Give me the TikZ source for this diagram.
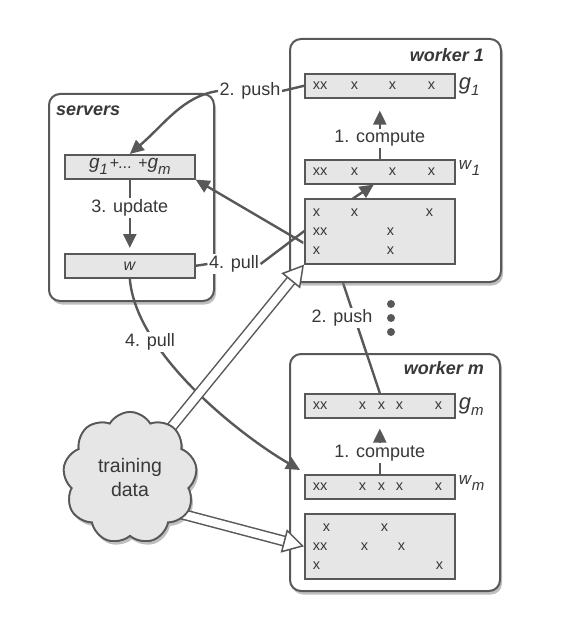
\documentclass[tikz,border=0pt]{standalone}
\usepackage{fontspec}
\setmainfont{Liberation Sans}
\usetikzlibrary{shapes.symbols,arrows.meta,shadows,calc}
\definecolor{linec}{HTML}{585858}
\definecolor{boxf}{HTML}{E6E6E6}
\definecolor{txtc}{HTML}{383838}
\newcommand\xb[2]{\makebox[#1pt][l]{#2}}
\newcommand\glab[3]{{\fontsize{#1}{#1}\selectfont\textit{#2}}\raisebox{-6pt}{\fontsize{15}{15}\selectfont\textit{#3}}}
\begin{document}
\begin{tikzpicture}[x=1pt,y=-1pt,
  outer/.style={draw=linec,line width=2pt,fill=white,rounded corners=11pt,anchor=north west,
    drop shadow={shadow xshift=2pt,shadow yshift=-3.5pt,opacity=0.5}},
  ibox/.style={draw=linec,line width=1.6pt,fill=boxf,anchor=north west,minimum height=24pt,
    inner xsep=8pt,text width=134pt,align=left,text=txtc,font=\fontsize{14.5}{19}\selectfont},
  cbox/.style={draw=linec,line width=1.6pt,fill=boxf,anchor=north west,minimum height=24pt,
    minimum width=130pt,inner sep=0pt,text=txtc},
  lab/.style={text=txtc,font=\fontsize{18}{20}\selectfont,fill=white,inner sep=1.5pt},
  title/.style={text=txtc,font=\fontsize{18}{20}\selectfont\bfseries\itshape,inner sep=0pt},
  side/.style={text=txtc,inner sep=0pt,anchor=west},
  conn/.style={draw=linec,line width=2.4pt},
  tip/.style={-{Triangle[length=14pt,width=13pt]}},
  fat/.style={draw=linec,line width=1.5pt,double=white,double distance=8pt,
    -{Triangle[length=21pt,width=24pt,fill=white]}},
  dotn/.style={circle,fill=linec,inner sep=0pt,minimum size=8pt},
  cloudst/.style={cloud,cloud puffs=9,cloud puff arc=120,aspect=1,draw=linec,line width=1.8pt,
    fill=boxf,minimum width=134pt,minimum height=132pt,inner sep=0pt,align=center,text=txtc,
    font=\fontsize{19.5}{24}\selectfont},
  cshadow/.style={drop shadow={shadow xshift=2pt,shadow yshift=-3.5pt,opacity=0.5}}]
\useasboundingbox (0,0) rectangle (572,636);

% servers
\node[outer,minimum width=165pt,minimum height=207pt] (servers) at (48,93) {};
\node[title,anchor=west] (stitle) at (56,111) {servers};
\node[cbox] (gsum) at (64,154) {\glab{19}{g}{1}\,\textit{\fontsize{16}{16}\selectfont+... +}\glab{19}{g}{m}};
\node[cbox] (w) at (64,253) {\fontsize{16}{16}\selectfont\textit{w}};

% worker m
\node[outer,minimum width=210pt,minimum height=237pt] (wkm) at (289,353) {};
\node[title,anchor=east] (mtitle) at (484,368) {worker m};
\node[ibox] (gm) at (304,393) {\xb{46}{xx}\xb{19}{x}\xb{18}{x}\xb{39}{x}x};
\node[ibox] (wm) at (304,474) {\xb{46}{xx}\xb{19}{x}\xb{18}{x}\xb{39}{x}x};
\node[ibox,minimum height=65pt] (datam) at (304,513) {\hspace*{10pt}\xb{58}{x}x\\ \xb{48}{xx}\xb{37}{x}x\\ \xb{123}{x}x};
\node[side] (gml) at ($(gm.east)+(3,1)$) {\glab{22}{g}{m}};
\node[side] (wml) at ($(wm.east)+(3,-4)$) {\glab{17}{w}{m}};
\draw[conn,tip,shorten >=10pt] (wm.north) -- node[lab,pos=0.38] (cm) {1. compute} (gm.south);

% push from worker m (runs behind worker 1)
\coordinate (k1) at (336,262);
\draw[conn,tip] (gm.north) -- (k1) -- (gsum.south east);

% worker 1
\node[outer,minimum width=211pt,minimum height=243pt] (wk1) at (289,38) {};
\begin{scope}
  \clip (wk1.north west) ++(1.2,150) rectangle (303.3,279);
  \draw[conn] (k1) -- (gsum.south east);
\end{scope}
\node[title,anchor=east] (title1) at (484,55) {worker 1};
\node[ibox] (g1) at (304,73) {\xb{38}{xx}\xb{38}{x}\xb{39}{x}x};
\node[ibox] (w1) at (304,159) {\xb{38}{xx}\xb{38}{x}\xb{39}{x}x};
\node[side] (g1l) at ($(g1.east)+(3,1)$) {\glab{22}{g}{1}};
\node[side] (w1l) at ($(w1.east)+(3,-4)$) {\glab{17}{w}{1}};

% pull to worker 1
\node[lab] (pull1) at (234,264) {4. pull};
\coordinate (k2) at (303,232);
\draw[conn] (w.east) -- (pull1.west);
\draw[conn,tip] (pull1.east) -- (k2) -- ($(w1.south)+(-6,0)$);
\node[ibox,minimum height=65pt] (data1) at (304,198) {\xb{38}{x}\xb{75}{x}x\\ \xb{74}{xx}x\\ \xb{74}{x}x};
\draw[conn,tip,shorten >=12pt] (w1.north) -- node[lab,pos=0.34] (c1) {1. compute} (g1.south);

% update
\draw[conn,tip,shorten >=5pt] (gsum.south) -- node[lab,pos=0.39] (upd) {3. update} (w.north);

% push from worker 1
\node[lab] (push1) at (250,91) {2. push};
\draw[conn] (g1.west) -- (push1.east);
\draw[conn,tip] (push1.west) .. controls +(-35,5) and +(35,-30) .. (gsum.north);

% pull to worker m
\draw[conn,tip] (w.south) .. controls +(6,75) and +(-60,-35) .. ($(wm.north west)+(-4,-4)$);
\node[lab] (pullm) at (150,342) {4. pull};

% push label for worker m and dots
\node[lab] (pushm) at (342,318) {2. push};
\node[dotn] (dt1) at (391,304) {};
\node[dotn] (dt2) at (391,318) {};
\node[dotn] (dt3) at (391,332) {};

% training data
\coordinate (cs2) at (140,503);
\node[cloudst,cshadow] (cloud) at (130,478) {};
\draw[fat] (cloud.center) -- (data1.south west);
\draw[fat] (cs2) -- (datam.west);
\node[cloudst] (cloud2) at (130,478) {training\\data};
\end{tikzpicture}
\end{document}
